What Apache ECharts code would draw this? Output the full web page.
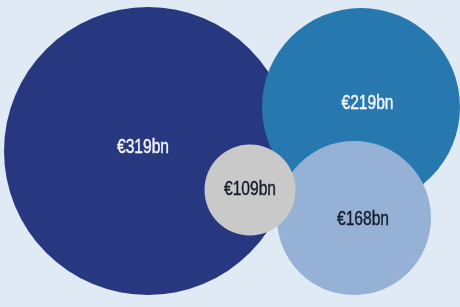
<!DOCTYPE html>
<html>
<head>
<meta charset="utf-8">
<script src="https://cdn.jsdelivr.net/npm/echarts@6/dist/echarts.min.js"></script>
<style>
html,body{margin:0;padding:0;background:#dfeaf4;}
#c{width:460px;height:307px;}
</style>
</head>
<body>
<div id="c"></div>
<script>
// Data
const values = [319, 219, 168, 109];
const centerX = [148, 361, 354, 250];
const centerY = [151, 107, 218, 190];
const diameters = [288, 198, 154, 91];
const labelDX = [-5, 6.5, 9, 0];
const labelDY = [-4, -4, 1, -1];
const colors = ['#283880', '#2878b0', '#95b2d6', '#c9c9c9'];
const textColors = ['#f4f6fb', '#f4f6fb', '#141c2c', '#141c2c'];

const data = values.map((v, i) => [centerX[i], centerY[i], v, diameters[i], i]);

const chart = echarts.init(document.getElementById('c'), null, { renderer: 'canvas' });
chart.setOption({
  backgroundColor: '#dfeaf4',
  animation: false,
  grid: { left: 0, right: 0, top: 0, bottom: 0 },
  xAxis: { type: 'value', min: 0, max: 460, show: false },
  yAxis: { type: 'value', min: 0, max: 307, inverse: true, show: false },
  series: [{
    type: 'custom',
    data: data,
    renderItem: function (params, api) {
      const i = api.value(4);
      const p = api.coord([api.value(0), api.value(1)]);
      const s = api.size([api.value(3), api.value(3)]);
      return {
        type: 'group',
        children: [{
          type: 'circle',
          shape: { cx: p[0], cy: p[1], r: s[0] / 2 },
          style: { fill: colors[i] }
        }, {
          type: 'text',
          x: p[0] + labelDX[i],
          y: p[1] + labelDY[i],
          scaleX: 0.78,
          style: {
            text: '€' + api.value(2) + 'bn',
            fill: textColors[i],
            stroke: textColors[i],
            lineWidth: 0.4,
            font: '20px "Liberation Sans", Arial, sans-serif',
            textAlign: 'center',
            textVerticalAlign: 'middle'
          }
        }]
      };
    }
  }]
});
</script>
</body>
</html>
